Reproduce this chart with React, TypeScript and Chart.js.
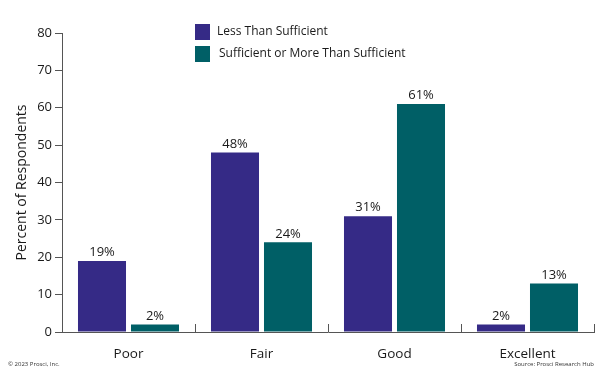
import React, { useEffect, useRef } from "react";
import { Chart, registerables } from "chart.js";

Chart.register(...registerables);

const categories = ["Poor", "Fair", "Good", "Excellent"];
const lessThanSufficient = [19, 48, 31, 2];
const sufficientOrMore = [2, 24, 61, 13];
const seriesLabels = ["Less Than Sufficient", "Sufficient or More Than Sufficient"];
const seriesColors = ["#352a86", "#005f66"];
const yTitle = "Percent of Respondents";
const copyright = "© 2023 Prosci, Inc.";
const source = "Source: Prosci Research Hub";

const FONT = "'Open Sans', 'Noto Sans', sans-serif";
const TEXT = "#1a1a1a";
const AXIS = "#555555";

const extrasPlugin = {
  id: "extras",
  afterDatasetsDraw(chart: any) {
    const ctx = chart.ctx;
    ctx.save();
    // value labels
    ctx.font = `13px ${FONT}`;
    ctx.fillStyle = TEXT;
    ctx.textAlign = "center";
    ctx.textBaseline = "bottom";
    chart.data.datasets.forEach((ds: any, di: number) => {
      const meta = chart.getDatasetMeta(di);
      meta.data.forEach((bar: any, i: number) => {
        ctx.fillText(`${ds.data[i]}%`, bar.x, bar.y - 2);
      });
    });
    // inward x ticks at category boundaries
    const xs = chart.scales.x;
    const bottom = chart.chartArea.bottom;
    ctx.strokeStyle = AXIS;
    ctx.lineWidth = 1;
    for (let i = 1; i <= categories.length; i++) {
      const x = Math.round(xs.getPixelForValue(i - 0.5)) + 0.5;
      ctx.beginPath();
      ctx.moveTo(x, bottom);
      ctx.lineTo(x, bottom - 8);
      ctx.stroke();
    }
    // legend
    ctx.textAlign = "left";
    ctx.textBaseline = "middle";
    ctx.font = `12px ${FONT}`;
    chart.data.datasets.forEach((ds: any, di: number) => {
      const y = 24 + di * 22;
      ctx.fillStyle = ds.backgroundColor;
      ctx.fillRect(195, y, 15, 16);
      ctx.fillStyle = TEXT;
      ctx.fillText(ds.label, 217 + di * 2, y + 8);
    });
    // footer
    ctx.font = `6px ${FONT}`;
    ctx.fillStyle = "#333";
    ctx.textAlign = "left";
    ctx.fillText(copyright, 8, 364);
    ctx.textAlign = "right";
    ctx.fillText(source, 594, 364);
    ctx.restore();
  },
};

export default function App() {
  const ref = useRef<HTMLCanvasElement>(null);
  useEffect(() => {
    document.body.style.margin = "0";
    const chart = new Chart(ref.current!, {
      type: "bar",
      data: {
        labels: categories,
        datasets: [
          {
            label: seriesLabels[0],
            data: lessThanSufficient,
            backgroundColor: seriesColors[0],
            categoryPercentage: 0.797,
            barPercentage: 0.906,
          },
          {
            label: seriesLabels[1],
            data: sufficientOrMore,
            backgroundColor: seriesColors[1],
            categoryPercentage: 0.797,
            barPercentage: 0.906,
          },
        ],
      },
      options: {
        responsive: false,
        animation: false,
        layout: { padding: { left: 0, right: 6, top: 33, bottom: 0 } },
        plugins: {
          legend: { display: false },
          tooltip: { enabled: false },
        },
        scales: {
          x: {
            grid: { display: false, drawTicks: false },
            border: { display: true, color: AXIS, width: 1 },
            ticks: { color: TEXT, font: { family: FONT, size: 13.5 }, padding: 14 },
            afterFit(scale: any) {
              scale.height = 43;
            },
          },
          y: {
            min: 0,
            max: 80,
            ticks: { stepSize: 10, color: TEXT, font: { family: FONT, size: 13 }, padding: 3 },
            grid: { drawOnChartArea: false, drawTicks: true, tickLength: 7, color: AXIS },
            border: { display: true, color: AXIS, width: 1 },
            title: {
              display: true,
              text: yTitle,
              color: TEXT,
              font: { family: FONT, size: 14 },
              padding: { top: 14, bottom: 4 },
            },
            afterFit(scale: any) {
              scale.width = 62;
            },
          },
        },
      },
      plugins: [extrasPlugin],
    });
    return () => chart.destroy();
  }, []);
  return (
    <div style={{ width: 600, height: 375, background: "#fff" }}>
      <canvas ref={ref} width={600} height={375} />
    </div>
  );
}
